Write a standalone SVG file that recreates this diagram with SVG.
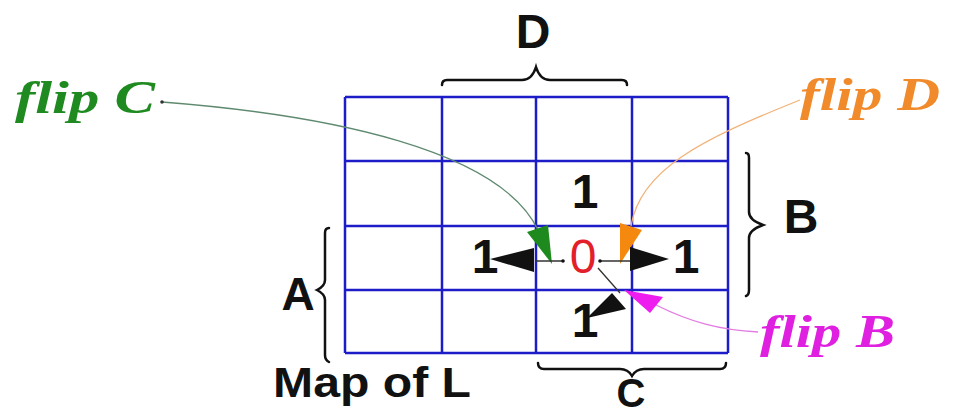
<svg xmlns="http://www.w3.org/2000/svg" width="959" height="416" viewBox="0 0 959 416">
<style>
.grid{stroke:#1c1cc8;stroke-width:2.5;fill:none}
.brace{stroke:#111;stroke-width:2.5;fill:none;stroke-linecap:round}
.lbl{font-family:"Liberation Sans",Arial,sans-serif;font-weight:bold;fill:#111;text-anchor:middle}
.num{font-family:"Liberation Sans",Arial,sans-serif;font-weight:bold;font-size:48px;fill:#111;text-anchor:middle}
.flip{font-family:"Liberation Serif","Times New Roman",serif;font-weight:bold;font-style:italic;font-size:46px}
.thin{fill:none;stroke-width:1.3}
</style>
<rect width="959" height="416" fill="#fff"/>
<g id="grid">
<path class="grid" d="M345,97 H728 M345,161 H728 M345,226 H728 M345,290 H728 M345,353 H728 M345,97 V353 M442,97 V353 M536,97 V353 M632,97 V353 M728,97 V353"/>
</g>
<g id="cells">
<text class="num" x="585" y="208">1</text>
<text class="num" x="485" y="273">1</text>
<text class="num" x="583" y="273" style="fill:#e3202a;font-weight:normal">0</text>
<text class="num" x="686" y="273">1</text>
<text class="num" x="585" y="337">1</text>
</g>
<g id="braces">
<path class="brace" d="M442,85 Q442,80 447,80 L522,80 Q532,80 536,67 Q540,80 550,80 L622,80 Q627,80 627,85"/>
<path class="brace" d="M746,153 Q749,153 749,158 L749,212 Q749,220 763,225 Q749,230 749,238 L749,290 Q749,295 746,296"/>
<path class="brace" d="M329,228 Q325,228 325,233 L325,280 Q325,286 317,290 Q325,294 325,300 L325,355 Q325,360 329,362"/>
<path class="brace" d="M538,363 Q538,369 544,369 L620,369 Q628,369 632,376 Q636,369 644,369 L720,369 Q726,369 726,363"/>
</g>
<g id="labels">
<text class="lbl" x="533" y="48" font-size="48">D</text>
<text class="lbl" x="801" y="233" font-size="48">B</text>
<text class="lbl" x="298" y="310" font-size="46">A</text>
<text class="lbl" x="631" y="407" font-size="40">C</text>
<text class="lbl" x="273" y="397" font-size="42" style="text-anchor:start" textLength="198" lengthAdjust="spacingAndGlyphs">Map of L</text>
</g>
<g id="flipC"><text class="flip" x="15" y="113" fill="#1f8a1f" textLength="140" lengthAdjust="spacingAndGlyphs">flip C</text></g>
<g id="flipD"><text class="flip" x="800" y="110" fill="#f08a2a" textLength="140" lengthAdjust="spacingAndGlyphs">flip D</text></g>
<g id="flipB"><text class="flip" x="760" y="347" fill="#e020e0" textLength="135" lengthAdjust="spacingAndGlyphs">flip B</text></g>
<g id="connectors">
<path class="thin" stroke="#5f8a70" d="M162,102 C330,115 500,150 538,230"/>
<polygon fill="#1e8a1e" points="552,264 527,232 548,225"/>
<path class="thin" stroke="#f2b37a" d="M800,100 C700,140 640,170 631,226"/>
<polygon fill="#f5880f" points="620,264 620,223 642,230"/>
<path class="thin" stroke="#e27ae2" d="M758,332 C720,330 690,322 656,305"/>
<polygon fill="#ee1cee" points="624,290 650,313 663,297"/>
<path class="thin" stroke="#333" d="M536,261 H563 M600,261 H630 M598,268 L620,293"/>
<circle cx="563" cy="261" r="1.8" fill="#111"/>
<circle cx="600" cy="261" r="1.8" fill="#111"/>
<circle cx="162" cy="102" r="1.8" fill="#333"/>
<polygon fill="#111" points="490,259 534,248 534,272"/>
<polygon fill="#111" points="669,259 630,247 630,271"/>
<polygon fill="#111" points="587,318 612,293 626,309"/>
</g>
</svg>
